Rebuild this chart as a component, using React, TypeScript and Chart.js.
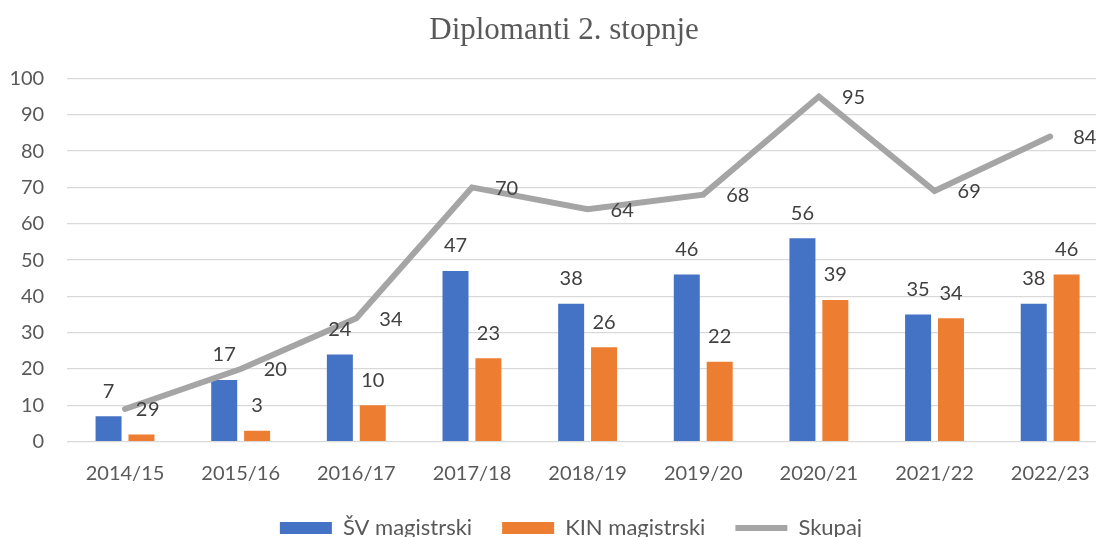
import React, { useEffect, useRef } from 'react';
import { Chart, registerables } from 'chart.js';

Chart.register(...registerables);

const titleText = 'Diplomanti 2. stopnje';
const categories = ['2014/15', '2015/16', '2016/17', '2017/18', '2018/19', '2019/20', '2020/21', '2021/22', '2022/23'];
const svMagistrski = [7, 17, 24, 47, 38, 46, 56, 35, 38];
const kinMagistrski = [2, 3, 10, 23, 26, 22, 39, 34, 46];
const skupaj = [9, 20, 34, 70, 64, 68, 95, 69, 84];
const seriesNames = ['ŠV magistrski', 'KIN magistrski', 'Skupaj'];
const yMin = 0;
const yMax = 100;
const yStep = 10;

const FONT = 'Lato, "Open Sans", sans-serif';

const valueLabels = {
  id: 'valueLabels',
  afterDatasetsDraw(chart: any) {
    const ctx = chart.ctx;
    ctx.save();
    ctx.font = `20px ${FONT}`;
    ctx.fillStyle = '#404040';
    ctx.textBaseline = 'middle';
    chart.data.datasets.forEach((ds: any, i: number) => {
      const meta = chart.getDatasetMeta(i);
      meta.data.forEach((el: any, j: number) => {
        const v = ds.data[j];
        if (meta.type === 'bar') {
          ctx.textAlign = 'center';
          ctx.fillText(String(v), el.x, el.y - 25);
        } else {
          ctx.textAlign = 'left';
          ctx.fillText(String(v), el.x + 23, el.y + 1);
        }
      });
    });
    ctx.restore();
  },
};

// Title and legend sit a little right of the plot's centre in the original chart
const shiftBoxes = {
  id: 'shiftBoxes',
  afterLayout(chart: any) {
    if (chart.titleBlock) {
      chart.titleBlock.left += 10;
      chart.titleBlock.right += 10;
    }
    if (chart.legend) {
      chart.legend.left += 17;
      chart.legend.right += 17;
    }
  },
};

export default function App() {
  const ref = useRef<HTMLCanvasElement | null>(null);
  useEffect(() => {
    if (!ref.current) return;
    const chart = new Chart(ref.current, {
      type: 'bar',
      data: {
        labels: categories,
        datasets: [
          {
            type: 'bar',
            label: seriesNames[0],
            data: svMagistrski,
            backgroundColor: '#4472C4',
            borderWidth: 0,
            pointStyle: 'rect',
            order: 1,
            categoryPercentage: 0.569,
            barPercentage: 0.79,
          } as any,
          {
            type: 'bar',
            label: seriesNames[1],
            data: kinMagistrski,
            backgroundColor: '#ED7D31',
            borderWidth: 0,
            pointStyle: 'rect',
            order: 1,
            categoryPercentage: 0.569,
            barPercentage: 0.79,
          } as any,
          {
            type: 'line',
            label: seriesNames[2],
            data: skupaj,
            borderColor: '#A5A5A5',
            backgroundColor: '#A5A5A5',
            borderWidth: 6,
            borderCapStyle: 'round',
            pointRadius: 0,
            pointHoverRadius: 0,
            pointStyle: 'line',
            tension: 0,
            order: 0,
          } as any,
        ],
      },
      options: {
        animation: false,
        responsive: false,
        maintainAspectRatio: false,
        layout: { padding: { left: 0, right: 0, top: 0, bottom: 0 } },
        plugins: {
          title: {
            display: true,
            text: titleText,
            color: '#595959',
            font: { family: '"Liberation Serif", "Times New Roman", serif', size: 31, weight: 'normal' },
            padding: { top: 12.4, bottom: 28.8 },
          },
          legend: {
            position: 'bottom',
            labels: {
              font: { family: FONT, size: 22 },
              color: '#595959',
              usePointStyle: true,
              pointStyleWidth: 52,
              boxHeight: 12,
              padding: 30,
              sort: (a: any, b: any) => a.datasetIndex - b.datasetIndex,
            },
          },
          tooltip: { enabled: false },
        },
        scales: {
          x: {
            grid: { display: false },
            border: { display: false },
            ticks: { color: '#595959', font: { family: FONT, size: 20 }, padding: 12, maxRotation: 0 },
            afterFit: (s: any) => { s.height = 45.3; },
          },
          y: {
            min: yMin,
            max: yMax,
            ticks: { stepSize: yStep, color: '#595959', font: { family: FONT, size: 20 }, padding: 23 },
            grid: { color: '#D9D9D9', lineWidth: 1.3, drawTicks: false },
            border: { display: false },
            afterFit: (s: any) => { s.width = 67.2; },
          },
        },
      } as any,
      plugins: [valueLabels, shiftBoxes],
    });
    return () => chart.destroy();
  }, []);

  return (
    <div style={{ position: 'fixed', left: 0, top: 0, width: 1096, height: 537, overflow: 'hidden', background: '#fff' }}>
      <div style={{ width: 1108, height: 549 }}>
        <canvas ref={ref} width={1108} height={549} style={{ display: 'block' }} />
      </div>
    </div>
  );
}
